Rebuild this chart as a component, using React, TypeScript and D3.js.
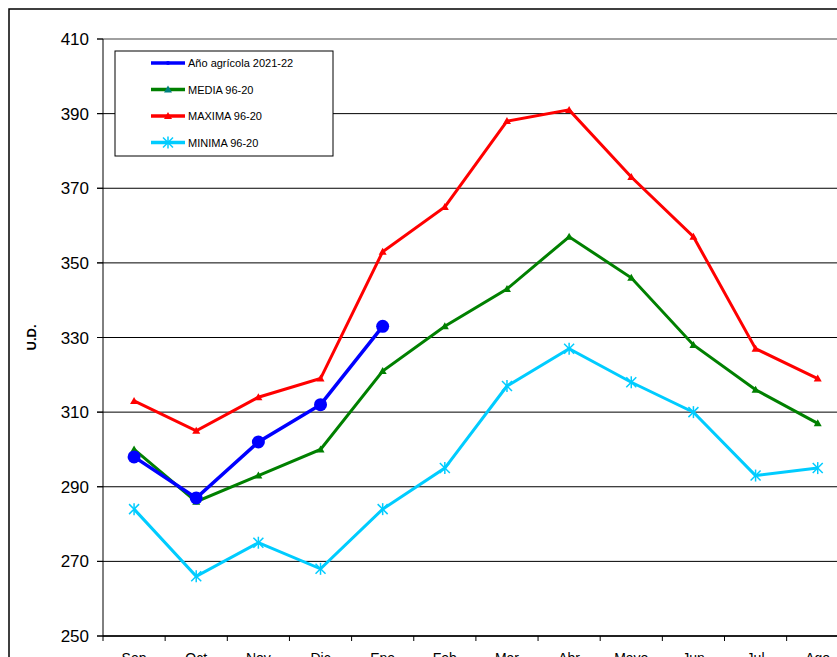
import React from "react";
import * as d3 from "d3";

const months = ["Sep", "Oct", "Nov", "Dic", "Ene", "Feb", "Mar", "Abr", "Mayo", "Jun", "Jul", "Ago"];
const actual = [298, 287, 302, 312, 333];
const media = [300, 286, 293, 300, 321, 333, 343, 357, 346, 328, 316, 307];
const maxima = [313, 305, 314, 319, 353, 365, 388, 391, 373, 357, 327, 319];
const minima = [284, 266, 275, 268, 284, 295, 317, 327, 318, 310, 293, 295];
const yTicks = [250, 270, 290, 310, 330, 350, 370, 390, 410];

const W = 837, H = 657;
const left = 103, top = 39, bottom = 636;
const x = d3.scaleBand<string>().domain(months).range([left, left + 62.15 * 12]);
const y = d3.scaleLinear().domain([250, 410]).range([bottom, top]);
const cx = (m: string) => (x(m) as number) + x.bandwidth() / 2;

const line = d3.line<number>().x((_, i) => cx(months[i])).y((d) => y(d));

const tri = (px: number, py: number, c: string, k: string | number) => (
  <path key={k} d={`M${px},${py - 4}L${px + 4},${py + 3}L${px - 4},${py + 3}Z`} fill={c} />
);
const star = (px: number, py: number, c: string, k: string | number) => (
  <g key={k} stroke={c} strokeWidth={1.5}>
    <line x1={px - 5} y1={py - 5} x2={px + 5} y2={py + 5} />
    <line x1={px - 5} y1={py + 5} x2={px + 5} y2={py - 5} />
    <line x1={px} y1={py - 6} x2={px} y2={py + 6} />
  </g>
);

const legend = [
  { label: "Año agrícola 2021-22", color: "#0000ff", m: "dot" },
  { label: "MEDIA 96-20", color: "#008000", m: "tri" },
  { label: "MAXIMA 96-20", color: "#ff0000", m: "tri" },
  { label: "MINIMA 96-20", color: "#00ccff", m: "star" },
];

export default function App() {
  return (
    <svg width={W} height={H} style={{ position: "absolute", left: 0, top: 0 }} fontFamily="Liberation Sans, Arial, sans-serif">
      <rect x={0} y={0} width={W} height={H} fill="#fff" />
      <rect x={9} y={9} width={W + 10} height={H} fill="none" stroke="#000" strokeWidth={1.5} />
      {yTicks.map((t) => (
        <g key={t}>
          <line x1={left - 6} x2={W} y1={y(t)} y2={y(t)} stroke={t === 410 ? "#808080" : "#000"} strokeWidth={t === 410 ? 1.5 : 1} />
          <line x1={left - 6} x2={left} y1={y(t)} y2={y(t)} stroke="#000" />
          <text x={left - 14} y={y(t) + 6} textAnchor="end" fontSize={17}>{t}</text>
        </g>
      ))}
      <line x1={left} x2={left} y1={top} y2={bottom} stroke="#000" />
      <line x1={left} x2={W} y1={bottom} y2={bottom} stroke="#000" strokeWidth={1.5} />
      {months.map((m) => (
        <g key={m}>
          <line x1={x(m)} x2={x(m)} y1={bottom} y2={bottom + 5} stroke="#000" />
          <text x={cx(m)} y={bottom + 27} textAnchor="middle" fontSize={14}>{m}</text>
        </g>
      ))}
      <text transform={`translate(36,${(top + bottom) / 2}) rotate(-90)`} textAnchor="middle" fontSize={13} fontWeight="bold">U.D.</text>

      <path d={line(maxima) || ""} fill="none" stroke="#ff0000" strokeWidth={3} />
      {maxima.map((d, i) => tri(cx(months[i]), y(d), "#ff0000", i))}
      <path d={line(media) || ""} fill="none" stroke="#008000" strokeWidth={3} />
      {media.map((d, i) => tri(cx(months[i]), y(d), "#008000", i))}
      <path d={line(minima) || ""} fill="none" stroke="#00ccff" strokeWidth={3} />
      {minima.map((d, i) => star(cx(months[i]), y(d), "#00ccff", i))}
      <path d={line(actual) || ""} fill="none" stroke="#0000ff" strokeWidth={3.5} />
      {actual.map((d, i) => <circle key={i} cx={cx(months[i])} cy={y(d)} r={6.5} fill="#0000ff" />)}

      <rect x={115} y={51} width={218} height={105} fill="#fff" stroke="#000" />
      {legend.map((l, i) => {
        const ly = 63 + i * 26.5;
        return (
          <g key={l.label}>
            <line x1={151} x2={185} y1={ly} y2={ly} stroke={l.color} strokeWidth={3.5} />
            {l.m === "dot" && <circle cx={168} cy={ly} r={2} fill={l.color} />}
            {l.m === "tri" && tri(168, ly, l.m === "tri" && i === 1 ? "#008080" : l.color, "t")}
            {l.m === "star" && star(168, ly, l.color, "s")}
            <text x={188} y={ly + 4} fontSize={11}>{l.label}</text>
          </g>
        );
      })}
    </svg>
  );
}
